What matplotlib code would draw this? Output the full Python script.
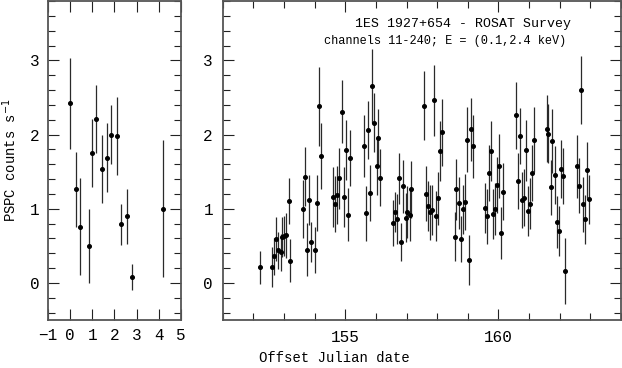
import matplotlib
matplotlib.use("Agg")
import matplotlib.pyplot as plt
from matplotlib.ticker import MultipleLocator

# pointed observations (left panel)
t_left = [0.00, 0.29, 0.47, 0.85, 1.00, 1.19, 1.46, 1.66, 1.86, 2.12, 2.32, 2.59, 2.80, 4.18]
rate_left = [2.42, 1.26, 0.76, 0.50, 1.75, 2.21, 1.54, 1.69, 2.00, 1.98, 0.79, 0.90, 0.08, 1.00]
err_left = [0.61, 0.50, 0.66, 0.50, 0.46, 0.46, 0.46, 0.47, 0.40, 0.52, 0.28, 0.37, 0.18, 0.92]

# survey light curve (right panel)
t_right = [152.22, 152.61, 152.69, 152.75, 152.82, 152.90, 152.95, 153.01, 153.08, 153.16, 153.21,
           153.62, 153.69, 153.75, 153.82, 153.89, 154.02, 154.08, 154.15, 154.21,
           154.61, 154.68, 154.74, 154.81, 154.89, 154.95, 155.02, 155.08, 155.15,
           155.62, 155.68, 155.75, 155.81, 155.88, 155.95, 156.02, 156.08, 156.15,
           156.56, 156.62, 156.69, 156.76, 156.83, 156.89, 156.97, 157.03, 157.10, 157.16,
           157.56, 157.62, 157.69, 157.76, 157.82, 157.90, 157.96, 158.03, 158.09, 158.16,
           158.57, 158.63, 158.70, 158.77, 158.83, 158.90, 158.96, 159.03, 159.09, 159.16,
           159.56, 159.63, 159.69, 159.76, 159.82, 159.90, 159.96, 160.03, 160.09, 160.16,
           160.56, 160.63, 160.69, 160.76, 160.82, 160.89, 160.95, 161.02, 161.10, 161.16,
           161.57, 161.63, 161.70, 161.76, 161.84, 161.90, 161.97, 162.03, 162.10, 162.16,
           162.57, 162.63, 162.70, 162.76, 162.83, 162.90, 162.97]
rate_right = [0.21, 0.21, 0.36, 0.59, 0.44, 0.41, 0.62, 0.63, 0.64, 1.10, 0.30,
              1.00, 1.43, 0.45, 1.12, 0.55, 0.45, 1.08, 2.38, 1.71,
              1.16, 1.06, 1.18, 1.41, 2.31, 1.16, 1.79, 0.92, 1.68,
              1.85, 0.94, 2.06, 1.21, 2.65, 2.16, 1.58, 1.96, 1.42,
              0.81, 0.95, 0.86, 1.41, 0.55, 1.30, 0.88, 0.95, 0.91, 1.26,
              2.39, 1.20, 1.04, 0.95, 0.98, 2.46, 0.90, 1.14, 1.78, 2.03,
              0.62, 1.26, 1.08, 0.59, 0.99, 1.09, 1.93, 0.31, 2.07, 1.84,
              1.01, 0.90, 1.48, 1.78, 0.93, 1.00, 1.32, 1.58, 0.67, 1.23,
              2.26, 1.37, 1.98, 1.12, 1.15, 1.79, 0.97, 1.07, 1.48, 1.93,
              2.08, 2.01, 1.29, 1.91, 1.46, 0.82, 0.70, 1.53, 1.44, 0.16,
              1.57, 1.31, 2.60, 1.06, 0.86, 1.52, 1.13]
err_right = [0.22, 0.27, 0.25, 0.30, 0.25, 0.25, 0.27, 0.27, 0.30, 0.31, 0.29,
             0.39, 0.40, 0.36, 0.34, 0.27, 0.31, 0.38, 0.53, 0.45,
             0.40, 0.38, 0.39, 0.41, 0.43, 0.40, 0.40, 0.36, 0.38,
             0.42, 0.37, 0.39, 0.38, 0.50, 0.40, 0.40, 0.39, 0.39,
             0.31, 0.27, 0.34, 0.34, 0.26, 0.36, 0.33, 0.35, 0.35, 0.39,
             0.46, 0.37, 0.34, 0.37, 0.34, 0.48, 0.34, 0.36, 0.40, 0.45,
             0.33, 0.41, 0.35, 0.31, 0.33, 0.38, 0.44, 0.34, 0.42, 0.43,
             0.34, 0.37, 0.38, 0.40, 0.34, 0.35, 0.38, 0.43, 0.35, 0.38,
             0.45, 0.38, 0.38, 0.38, 0.38, 0.41, 0.34, 0.35, 0.38, 0.44,
             0.45, 0.40, 0.37, 0.43, 0.39, 0.35, 0.34, 0.39, 0.38, 0.45,
             0.42, 0.37, 0.46, 0.37, 0.33, 0.38, 0.33]

left_ticklabels = ['\u22121', '0', '1', '2', '3', '4', '5']

plt.rcParams['font.family'] = ['Liberation Mono', 'DejaVu Sans Mono']

W, H = 622, 368
fig = plt.figure(figsize=(W / 100, H / 100), dpi=100)


def px_axes(l, t, r, b):
    '''axes box given in pixels: left, top, right, bottom'''
    return fig.add_axes([l / W, 1 - b / H, (r - l) / W, (b - t) / H])


ax1 = px_axes(47.7, 1, 181, 320)
ax2 = px_axes(222.7, 1, 621, 320)

ekw = dict(fmt='o', ms=2.6, mfc='k', mec='k', ecolor='#2a2a2a', elinewidth=0.9, capsize=0)
ax1.errorbar(t_left, rate_left, yerr=err_left, **ekw)
ax2.errorbar(t_right, rate_right, yerr=err_right, **ekw)

for ax in (ax1, ax2):
    ax.set_ylim(-0.5, 3.8)
    ax.yaxis.set_major_locator(MultipleLocator(1))
    ax.yaxis.set_minor_locator(MultipleLocator(0.2))
    ax.tick_params(which='both', direction='in', top=True, right=True,
                   width=0.8, color='#222222', labelsize=11.5)
    ax.tick_params(which='major', length=8)
    ax.tick_params(which='minor', length=5)
    for sp in ax.spines.values():
        sp.set_color('#555555')
        sp.set_linewidth(1.3)

# left panel: pointed data
ax1.set_xlim(-1, 5)
ax1.set_xticks(range(-1, 6))
ax1.set_xticklabels(left_ticklabels)
ax1.tick_params(axis='x', which='minor', bottom=False, top=False)
ax1.tick_params(axis='both', which='major', pad=6)

# right panel: survey
ax2.set_xlim(151, 164)
ax2.xaxis.set_major_locator(MultipleLocator(5))
ax2.xaxis.set_minor_locator(MultipleLocator(1))
ax2.tick_params(axis='both', which='major', pad=7)

ax1.set_ylabel('PSPC counts s$^{-1}$', fontsize=10, labelpad=8)
fig.text(334 / W, 1 - 358 / H, 'Offset Julian date', ha='center', va='center', fontsize=10)

fig.text(463 / W, 1 - 24 / H, '1ES 1927+654 - ROSAT Survey', fontsize=9.5,
         ha='center', va='center')
fig.text(445 / W, 1 - 41 / H, 'channels 11-240; E = (0.1,2.4 keV)', fontsize=8.6,
         ha='center', va='center')

fig.savefig('out.png', dpi=100)
